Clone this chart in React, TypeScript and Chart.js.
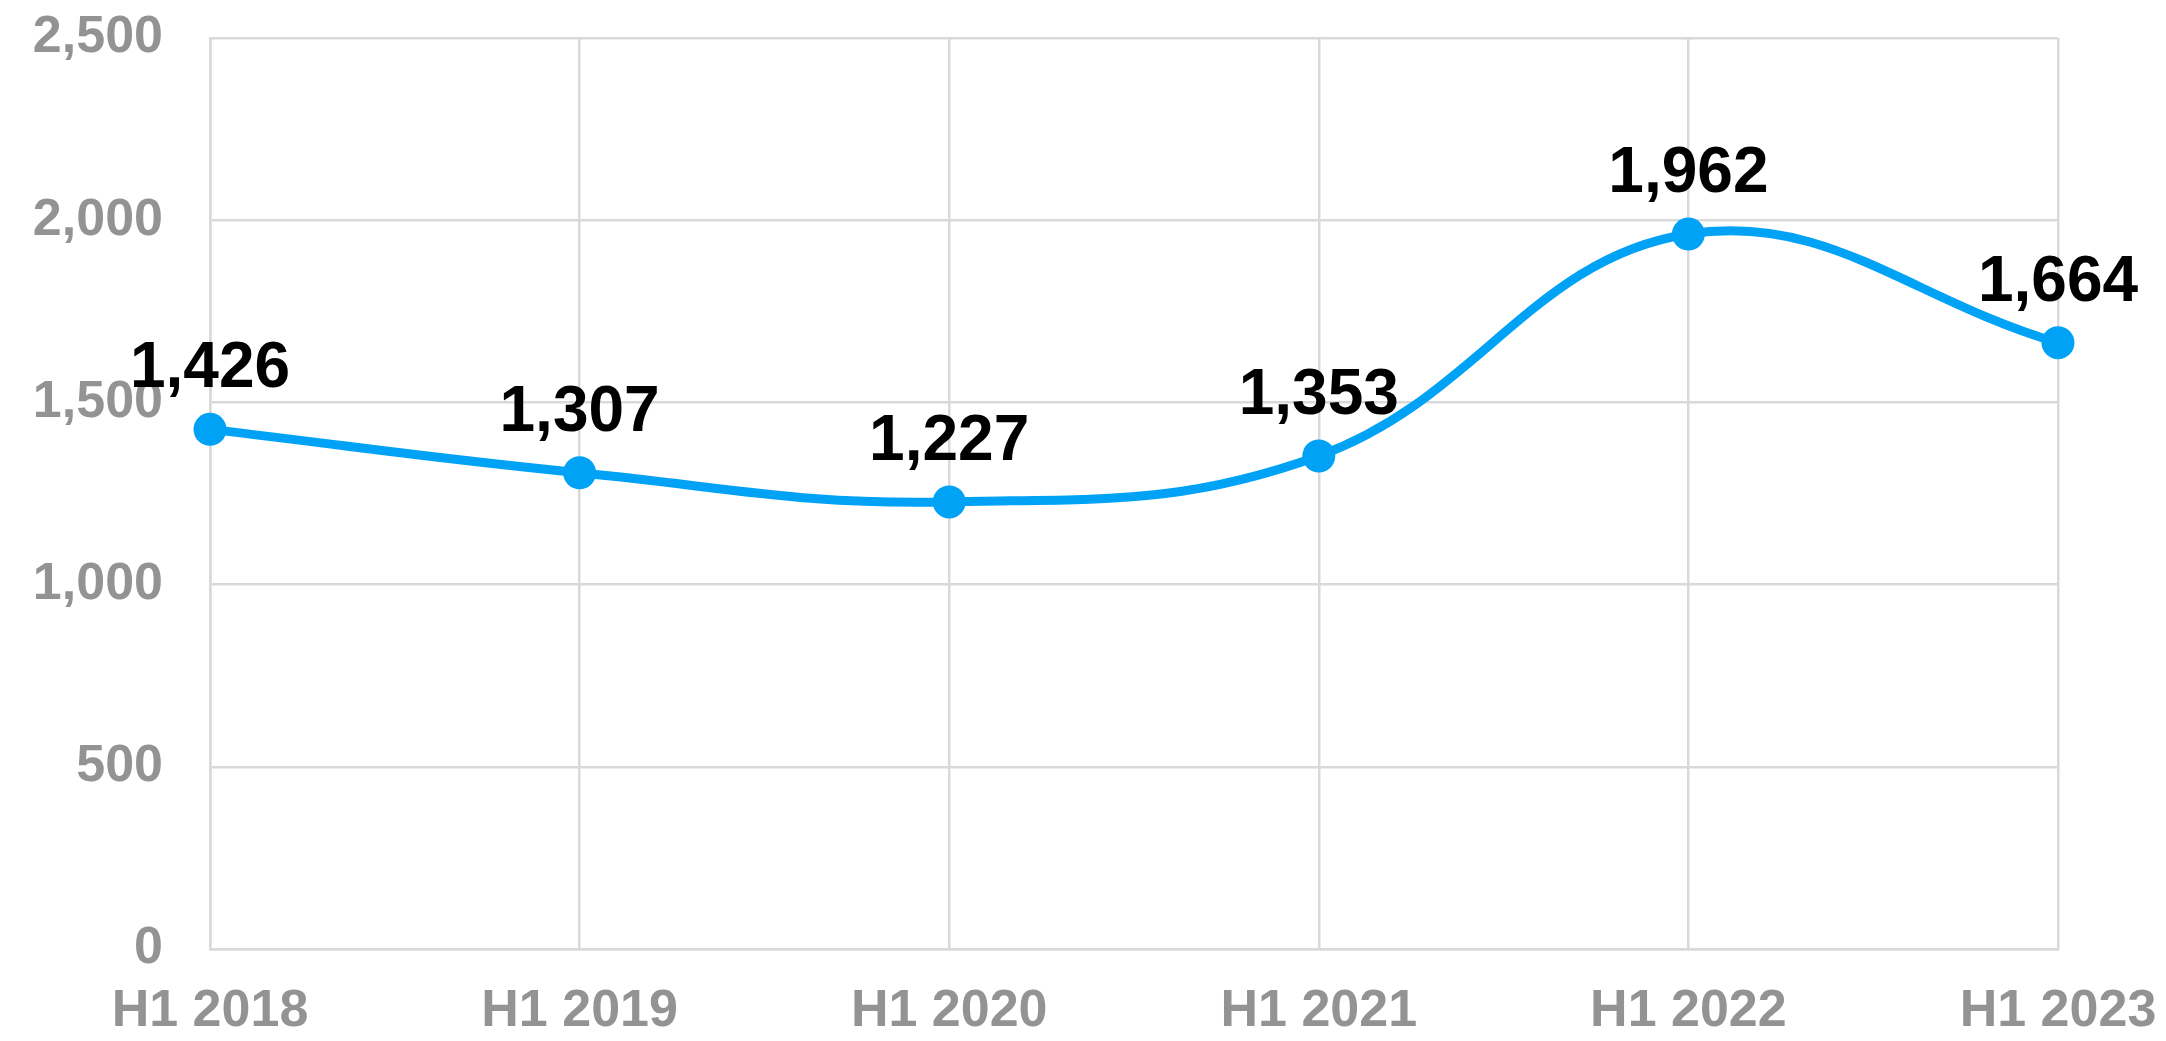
import React, { useEffect, useRef } from "react";
import { Chart, registerables } from "chart.js";

Chart.register(...registerables);

const categories: string[] = ["H1 2018", "H1 2019", "H1 2020", "H1 2021", "H1 2022", "H1 2023"];
const seriesValues: number[] = [1426, 1307, 1227, 1353, 1962, 1664];
const yTickValues: number[] = [0, 500, 1000, 1500, 2000, 2500];

const LINE_COLOR = "#00A2F6";
const AXIS_TEXT = "#939393";
const GRID_COLOR = "#D9D9D9";
const FONT_FAMILY = "'Liberation Sans', Arial, sans-serif";

const fmt = (v: number) => v.toLocaleString("en-US");

const valueLabelPlugin = {
  id: "valueLabels",
  afterDatasetsDraw(chart: any) {
    const ctx = chart.ctx;
    const meta = chart.getDatasetMeta(0);
    ctx.save();
    ctx.font = `bold 64px ${FONT_FAMILY}`;
    ctx.fillStyle = "#000000";
    ctx.textAlign = "center";
    ctx.textBaseline = "alphabetic";
    meta.data.forEach((pt: any, i: number) => {
      const v = chart.data.datasets[0].data[i] as number;
      ctx.fillText(fmt(v), pt.x, pt.y - 42);
    });
    ctx.restore();
  },
};

export default function App() {
  const canvasRef = useRef<HTMLCanvasElement | null>(null);

  useEffect(() => {
    if (!canvasRef.current) return;
    const chart = new Chart(canvasRef.current, {
      type: "line",
      data: {
        labels: categories,
        datasets: [
          {
            data: seriesValues,
            borderColor: LINE_COLOR,
            backgroundColor: LINE_COLOR,
            borderWidth: 9,
            pointRadius: 16.5,
            pointHoverRadius: 16.5,
            pointBackgroundColor: LINE_COLOR,
            pointBorderWidth: 0,
            tension: 0.4,
            fill: false,
            clip: false as any,
          },
        ],
      },
      options: {
        animation: false,
        responsive: true,
        maintainAspectRatio: false,
        layout: { padding: { left: 0, right: 108, top: 38, bottom: 0 } },
        plugins: {
          legend: { display: false },
          tooltip: { enabled: false },
        },
        scales: {
          x: {
            grid: { color: GRID_COLOR, lineWidth: 2.5, drawTicks: false },
            border: { color: GRID_COLOR, width: 2.5 },
            ticks: {
              color: AXIS_TEXT,
              font: { family: FONT_FAMILY, size: 52, weight: "bold" },
              padding: 31,
              maxRotation: 0,
              autoSkip: false,
            },
            afterFit: (scale: any) => {
              scale.height = 92;
              scale.paddingLeft = 0;
              scale.paddingRight = 0;
            },
          },
          y: {
            min: 0,
            max: 2500,
            afterBuildTicks: (scale: any) => {
              scale.ticks = yTickValues.map((v) => ({ value: v }));
            },
            grid: { color: GRID_COLOR, lineWidth: 2.5, drawTicks: false },
            border: { color: GRID_COLOR, width: 2.5 },
            ticks: {
              color: AXIS_TEXT,
              font: { family: FONT_FAMILY, size: 52, weight: "bold" },
              padding: 47,
              callback: (v: any) => fmt(Number(v)),
            },
            afterFit: (scale: any) => {
              scale.width = 210;
              scale.paddingTop = 0;
              scale.paddingBottom = 0;
            },
          },
        },
      },
      plugins: [valueLabelPlugin],
    });
    return () => chart.destroy();
  }, []);

  return (
    <div
      style={{
        position: "fixed",
        left: 0,
        top: 0,
        width: "2166px",
        height: "1041px",
        background: "#ffffff",
      }}
    >
      <canvas ref={canvasRef} />
    </div>
  );
}
